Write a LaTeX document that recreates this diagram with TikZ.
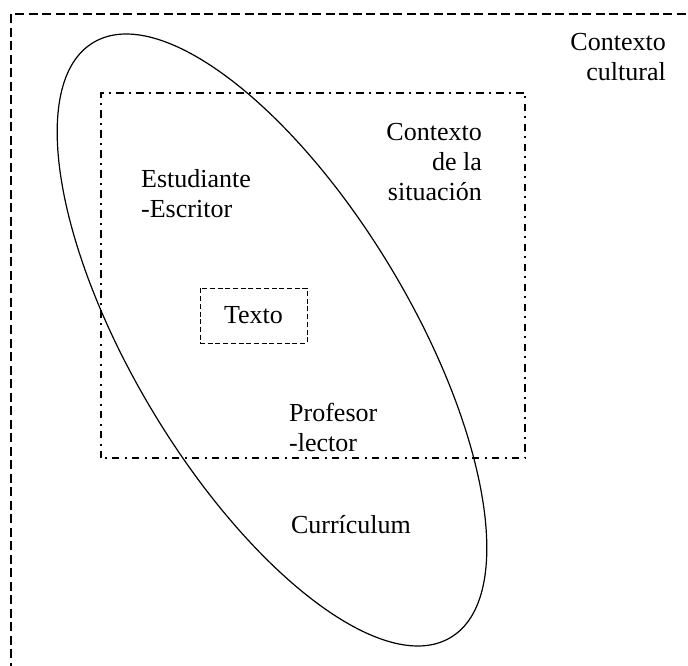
\documentclass[tikz,border=0pt]{standalone}
\usepackage{fontspec}
\setmainfont{Liberation Serif}
\begin{document}
\begin{tikzpicture}[x=1pt,y=1pt,
  lbl/.style={inner sep=0pt, font=\fontsize{26}{30}\selectfont},
  outerframe/.style={draw=black, line width=1.4pt, dash pattern=on 9pt off 4.5pt},
  situframe/.style={draw=black, line width=1.6pt, dash pattern=on 7.5pt off 5pt on 2pt off 5.5pt},
  textbox/.style={draw=black, line width=0.9pt, dash pattern=on 5pt off 2.7pt},
  curric/.style={draw=black, line width=1.2pt}]
\useasboundingbox (0,0) rectangle (688,665);
\clip (0,0) rectangle (688,665);

% cultural context: open frame running off the page
\draw[outerframe] (11,-20) -- (11,651) -- (710,651);

% situational context
\draw[situframe] (101,207) rectangle (525,572);

% curriculum ellipse
\draw[curric, rotate around={-59:(272,325)}] (272,325) ellipse [x radius=347, y radius=139];

% central text box
\node[textbox, minimum width=107pt, minimum height=55pt, lbl] (texto) at (253.5,349.5) {Texto};

% labels
\node[lbl, align=right, anchor=east] (cultural) at (666,608) {Contexto\\cultural};
\node[lbl, align=right, anchor=east] (situacion) at (482,503) {Contexto\\de la\\situación};
\node[lbl, align=left, anchor=west] (estudiante) at (141,471) {Estudiante\\-Escritor};
\node[lbl, align=left, anchor=west] (profesor) at (289,238) {Profesor\\-lector};
\node[lbl] (curriculum) at (351,140) {Currículum};
\end{tikzpicture}
\end{document}
